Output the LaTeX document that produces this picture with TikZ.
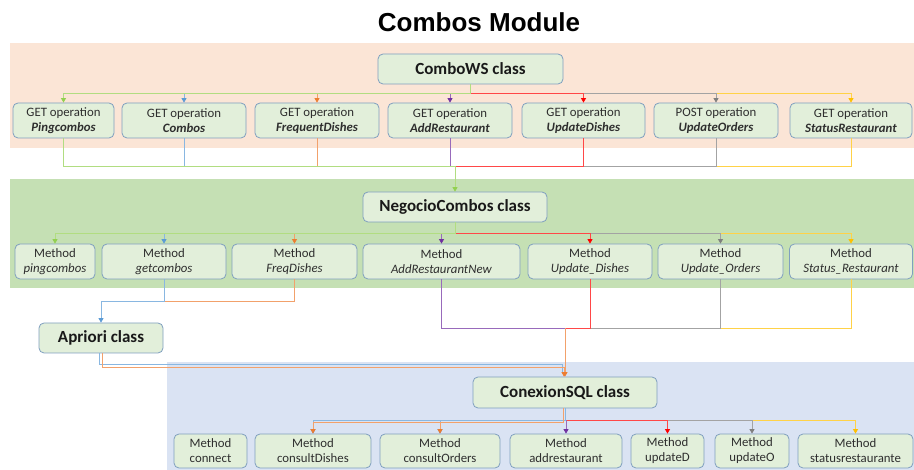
\documentclass[tikz,border=0pt]{standalone}
\usepackage{fontspec}
\setmainfont{Carlito}
\newfontfamily\titlefont{Liberation Sans}
\usetikzlibrary{arrows.meta,calc}
\definecolor{bgpink}{HTML}{FBE5D6}
\definecolor{bggreen}{HTML}{C5E0B4}
\definecolor{bgblue}{HTML}{DAE3F3}
\definecolor{boxfill}{HTML}{E2EFDA}
\definecolor{boxline}{HTML}{7F9FBF}
\definecolor{txt}{HTML}{2E2E2E}
\definecolor{cg}{HTML}{92D050}
\definecolor{cb}{HTML}{5B9BD5}
\definecolor{co}{HTML}{ED7D31}
\definecolor{cp}{HTML}{7030A0}
\definecolor{cr}{HTML}{FF0000}
\definecolor{cgr}{HTML}{7F7F7F}
\definecolor{cgo}{HTML}{FFC000}
\tikzset{
  box/.style={draw=boxline, fill=boxfill, rounded corners=5pt, line width=0.8pt,
    align=center, inner sep=0pt, text=txt, font=\fontsize{12.8}{15}\selectfont},
  clsbox/.style={box, text=black!90, font=\fontsize{17}{20}\selectfont\bfseries},
  line/.style={line width=0.8pt, draw=#1!72},
  link/.style={line width=0.8pt, draw=#1!72, -{Triangle[length=4.5pt,width=5pt,color=#1]}}
}
\begin{document}
\begin{tikzpicture}[x=1pt,y=-1pt]
\useasboundingbox (0,0) rectangle (914,470);
% backgrounds
\fill[bgpink] (10,43) rectangle (914,148);
\fill[bggreen] (10,179) rectangle (914,288);
\fill[bgblue] (167,362) rectangle (914,470);
% title
\node (title) at (479,22) {\titlefont\bfseries\fontsize{26}{30}\selectfont Combos Module};
% class boxes
\node[clsbox, minimum width=185, minimum height=30] (cw) at (470.5,69) {ComboWS class};
\node[clsbox, minimum width=184, minimum height=30] (nc) at (455,207) {NegocioCombos class};
\node[clsbox, minimum width=124, minimum height=30] (ap) at (101,338) {Apriori class};
\node[clsbox, minimum width=184, minimum height=31] (cs) at (565,392.5) {ConexionSQL class};
% operations
\node[box, minimum width=101, minimum height=35] (g1) at (63.5,120.5) {GET operation\\\textbf{\textit{Pingcombos}}};
\node[box, minimum width=124, minimum height=35] (g2) at (184,120.5) {GET operation\\\textbf{\textit{Combos}}};
\node[box, minimum width=124, minimum height=35] (g3) at (317,120.5) {GET operation\\\textbf{\textit{FrequentDishes}}};
\node[box, minimum width=124, minimum height=35] (g4) at (450,120.5) {GET operation\\\textbf{\textit{AddRestaurant}}};
\node[box, minimum width=123, minimum height=35] (g5) at (583.5,120.5) {GET operation\\\textbf{\textit{UpdateDishes}}};
\node[box, minimum width=124, minimum height=35] (g6) at (716,120.5) {POST operation\\\textbf{\textit{UpdateOrders}}};
\node[box, minimum width=122, minimum height=35] (g7) at (851,120.5) {GET operation\\\textbf{\textit{StatusRestaurant}}};
% methods negocio
\node[box, minimum width=80, minimum height=35] (m1) at (55,261.5) {Method\\\textit{pingcombos}};
\node[box, minimum width=124, minimum height=35] (m2) at (164,261.5) {Method\\\textit{getcombos}};
\node[box, minimum width=125, minimum height=35] (m3) at (294.5,261.5) {Method\\\textit{FreqDishes}};
\node[box, minimum width=157, minimum height=35] (m4) at (441.5,261.5) {Method\\\textit{AddRestaurantNew}};
\node[box, minimum width=124, minimum height=35] (m5) at (590,261.5) {Method\\\textit{Update\_Dishes}};
\node[box, minimum width=125, minimum height=35] (m6) at (720.5,261.5) {Method\\\textit{Update\_Orders}};
\node[box, minimum width=123, minimum height=35] (m7) at (851,261.5) {Method\\\textit{Status\_Restaurant}};
% methods SQL
\node[box, minimum width=73, minimum height=34] (b1) at (210.5,451) {Method\\connect};
\node[box, minimum width=116, minimum height=34] (b2) at (313,451) {Method\\consultDishes};
\node[box, minimum width=120, minimum height=34] (b3) at (440,451) {Method\\consultOrders};
\node[box, minimum width=112, minimum height=34] (b4) at (566,451) {Method\\addrestaurant};
\node[box, minimum width=73, minimum height=34] (b5) at (667.5,451) {Method\\updateD};
\node[box, minimum width=74, minimum height=34] (b6) at (752,451) {Method\\updateO};
\node[box, minimum width=115, minimum height=34] (b7) at (855.5,451) {Method\\statusrestaurante};
% bus coordinates
\coordinate (busA) at (0,93);
\coordinate (busB) at (0,166);
\coordinate (busC) at (0,233);
\coordinate (busD) at (0,301);
\coordinate (busF) at (0,328);
\coordinate (busG) at (0,420);
% ComboWS -> operations
\foreach \n/\c in {g7/cgo, g6/cgr, g5/cr, g4/cp, g3/co, g2/cb, g1/cg}
  \draw[link=\c] (cw.south) -- (cw.south |- busA) -| (\n.north);
% operations -> NegocioCombos
\foreach \n/\c in {g7/cgo, g6/cgr, g5/cr, g4/cp, g3/co, g2/cb, g1/cg}
  \draw[line=\c] (\n.south) |- (nc.north |- busB);
\draw[link=cg] (nc.north |- busB) -- (nc.north);
% NegocioCombos -> methods
\foreach \n/\c in {m7/cgo, m6/cgr, m5/cr, m4/cp, m3/co, m2/cb, m1/cg}
  \draw[link=\c] (nc.south) -- (nc.south |- busC) -| (\n.north);
% getcombos / FreqDishes -> Apriori
\draw[line=co] (m3.south) |- (m2.south |- busD);
\draw[link=cb] (m2.south) -- (m2.south |- busD) -| (ap.north);
% Apriori -> ConexionSQL
\draw[line=cb] ($(ap.south)+(-1.5,0)$) |- ($(cs.north)+(-3,-12)$) -- ($(cs.north)+(-3,-4)$);
\draw[link=co] ($(ap.south)+(1.5,0)$) |- ($(cs.north)+(-1,-9)$) -- ($(cs.north)+(-1,0)$);
% methods -> ConexionSQL
\foreach \n/\c in {m7/cgo, m6/cgr, m5/cr, m4/cp}
  \draw[line=\c] (\n.south) |- (cs.north |- busF);
\draw[link=co] (cs.north |- busF) -- (cs.north);
% ConexionSQL -> SQL methods
\foreach \n/\c in {b7/cgo, b6/cgr, b5/cr, b4/cp}
  \draw[link=\c] (cs.south) -- (cs.south |- busG) -| (\n.north);
\foreach \n in {b2, b3} {
  \draw[link=cb] (cs.south) -- (cs.south |- busG) -| (\n.north);
  \draw[link=co] ($(cs.south)+(-2,0)$) |- ($(\n.north)+(0,-11)$) -- (\n.north);
}
\end{tikzpicture}
\end{document}
